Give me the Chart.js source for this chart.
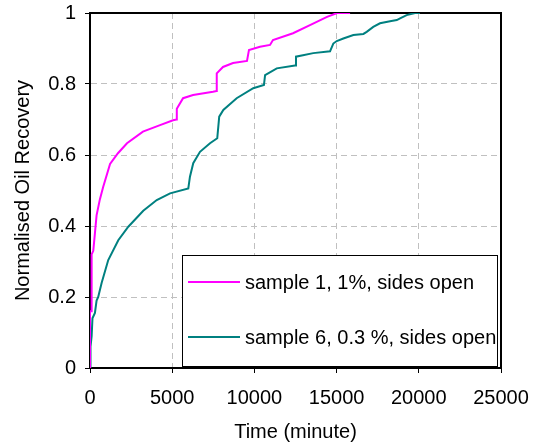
<!DOCTYPE html>
<html>
<head>
<meta charset="utf-8">
<script src="https://cdn.jsdelivr.net/npm/chart.js@4/dist/chart.umd.min.js"></script>
<style>
  html, body { margin: 0; padding: 0; background: #fff; }
  #wrap { width: 536px; height: 444px; position: relative; }
</style>
</head>
<body>
<div id="wrap"><canvas id="c" width="536" height="444"></canvas></div>
<script>
// Time in minutes and normalised recovery for each sample
const sample1Time = [0, 0, 100, 100, 200, 300, 400, 600, 800, 1220, 1700, 2250, 3220, 4260, 5050, 5270, 5280, 5660, 6270, 7480, 7700, 7710, 8090, 8700, 9550, 9670, 10340, 10950, 11130, 12350, 13380, 14420, 15030, 15820];
const sample1Recovery = [0, 0.16, 0.16, 0.32, 0.33, 0.38, 0.43, 0.475, 0.51, 0.575, 0.605, 0.633, 0.666, 0.684, 0.698, 0.700, 0.73, 0.76, 0.769, 0.778, 0.78, 0.83, 0.848, 0.859, 0.865, 0.896, 0.905, 0.91, 0.924, 0.943, 0.966, 0.989, 1.0, 1.0];

const sample6Time = [0, 30, 100, 150, 300, 400, 500, 710, 1110, 1720, 2330, 3240, 4060, 4870, 5980, 6080, 6280, 6690, 7300, 7740, 7860, 8110, 8920, 9930, 10580, 10650, 11360, 12470, 12530, 13580, 14600, 14800, 15010, 15410, 16020, 16630, 16830, 17230, 17640, 18250, 18660, 18860, 19260, 19770, 20070];
const sample6Recovery = [0, 0.06, 0.09, 0.14, 0.155, 0.19, 0.2, 0.24, 0.304, 0.36, 0.398, 0.443, 0.473, 0.492, 0.506, 0.539, 0.577, 0.609, 0.633, 0.647, 0.708, 0.727, 0.76, 0.788, 0.797, 0.825, 0.844, 0.852, 0.877, 0.887, 0.892, 0.914, 0.921, 0.928, 0.938, 0.941, 0.947, 0.961, 0.971, 0.977, 0.980, 0.985, 0.994, 1.0, 1.0];

const seriesNames = ['sample 1, 1%, sides open', 'sample 6, 0.3 %, sides open'];
const xTickLabels = ['0', '5000', '10000', '15000', '20000', '25000'];
const yTickLabels = ['0', '0.2', '0.4', '0.6', '0.8', '1'];

const FONT = 'Liberation Sans, Arial, Helvetica, sans-serif';

function toPoints(xs, ys) {
  return xs.map((x, i) => ({ x: x, y: ys[i] }));
}

// Fixed axis sizes; edge room comes from the layout padding only
function fixSize(prop, size) {
  return (scale) => {
    scale[prop] = size;
    scale.paddingTop = 0;
    scale.paddingBottom = 0;
    scale.paddingLeft = 0;
    scale.paddingRight = 0;
  };
}

// Black frame round the plot area
const framePlugin = {
  id: 'frame',
  beforeDatasetsDraw(chart) {
    const { ctx, chartArea: a } = chart;
    ctx.save();
    ctx.strokeStyle = '#000';
    ctx.lineWidth = 2;
    ctx.strokeRect(a.left, a.top, a.right - a.left, a.bottom - a.top);
    ctx.restore();
  }
};

// Boxed legend inside the lower right of the plot
const boxLegend = {
  id: 'boxLegend',
  afterDraw(chart) {
    const { ctx } = chart;
    const bx = 182, by = 255, bw = 315, bh = 111;
    ctx.save();
    ctx.fillStyle = '#fff';
    ctx.fillRect(bx, by, bw, bh);
    ctx.strokeStyle = '#000';
    ctx.lineWidth = 1;
    ctx.strokeRect(bx + 0.5, by + 0.5, bw, bh);
    const rows = [282, 337];
    ctx.font = '20px ' + FONT;
    ctx.textBaseline = 'middle';
    ctx.textAlign = 'left';
    chart.data.datasets.forEach((ds, i) => {
      ctx.strokeStyle = ds.borderColor;
      ctx.lineWidth = 2;
      ctx.beginPath();
      ctx.moveTo(188, rows[i]);
      ctx.lineTo(240, rows[i]);
      ctx.stroke();
      ctx.fillStyle = '#000';
      ctx.fillText(ds.label, 245, rows[i] + 1);
    });
    ctx.restore();
  }
};

Chart.defaults.color = '#000';
Chart.defaults.font.family = FONT;

new Chart(document.getElementById('c'), {
  type: 'line',
  data: {
    datasets: [
      {
        label: seriesNames[0],
        data: toPoints(sample1Time, sample1Recovery),
        borderColor: '#FF00FF',
        borderWidth: 2,
        pointRadius: 0,
        tension: 0,
        fill: false
      },
      {
        label: seriesNames[1],
        data: toPoints(sample6Time, sample6Recovery),
        borderColor: '#008080',
        borderWidth: 2,
        pointRadius: 0,
        tension: 0,
        fill: false
      }
    ]
  },
  options: {
    responsive: false,
    animation: false,
    events: [],
    layout: { padding: { left: 0, top: 13, right: 35, bottom: 0 } },
    plugins: {
      legend: { display: false },
      tooltip: { enabled: false }
    },
    scales: {
      x: {
        type: 'linear',
        min: 0,
        max: 25000,
        afterFit: fixSize('height', 76),
        ticks: {
          stepSize: 5000,
          maxRotation: 0,
          padding: 13,
          font: { size: 20 },
          callback: (v) => xTickLabels[Math.round(v / 5000)]
        },
        grid: {
          color: '#c0c0c0',
          lineWidth: 1,
          tickLength: 5,
          tickColor: '#000',
          tickWidth: 1
        },
        border: { display: true, color: '#000', width: 2, dash: [6, 4] },
        title: {
          display: true,
          text: 'Time (minute)',
          font: { size: 20 },
          padding: { top: 0, bottom: 0 }
        }
      },
      y: {
        type: 'linear',
        min: 0,
        max: 1,
        afterFit: fixSize('width', 90),
        ticks: {
          stepSize: 0.2,
          padding: 9,
          font: { size: 20 },
          callback: (v) => yTickLabels[Math.round(v / 0.2)]
        },
        grid: {
          color: '#c0c0c0',
          lineWidth: 1,
          tickLength: 5,
          tickColor: '#000',
          tickWidth: 1
        },
        border: { display: true, color: '#000', width: 2, dash: [6, 4] },
        title: {
          display: true,
          text: 'Normalised Oil Recovery',
          font: { size: 20 },
          padding: { top: 11, bottom: 0 }
        }
      }
    }
  },
  plugins: [framePlugin, boxLegend]
});
</script>
</body>
</html>
